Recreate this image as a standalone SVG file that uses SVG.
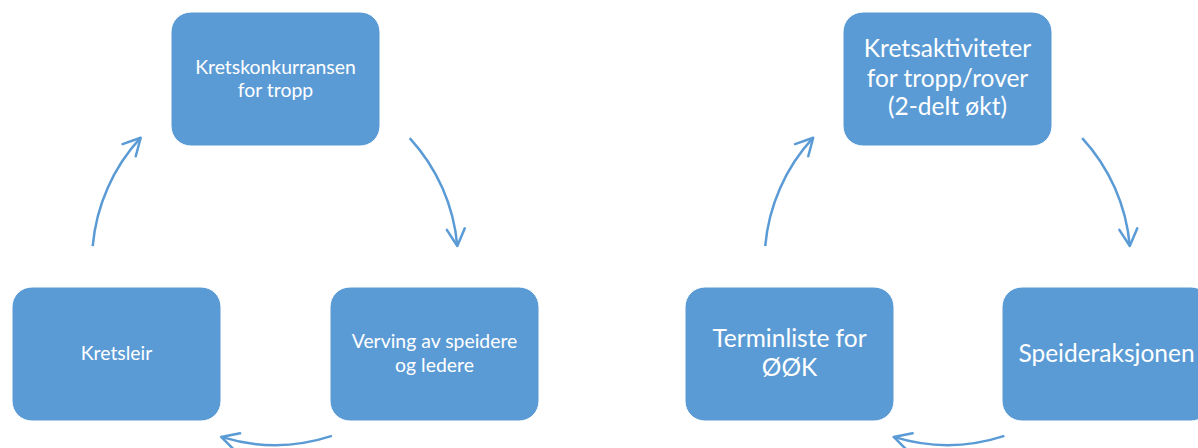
<svg xmlns="http://www.w3.org/2000/svg" width="1198" height="448" viewBox="0 0 1198 448">
  <style>
    .node rect { fill: #5B9BD5; stroke: #ffffff; stroke-width: 1; }
    .node text { fill: #ffffff; font-family: Lato, "Open Sans", sans-serif; text-anchor: middle; }
    .sm { font-size: 19.4px; }
    .lg { font-size: 24.5px; }
    .conn path { fill: none; stroke: #5B9BD5; stroke-width: 2.5; }
  </style>
  <defs>
    <marker id="ah" markerUnits="userSpaceOnUse" viewBox="-20 -12 24 24" refX="0" refY="0" markerWidth="24" markerHeight="24" orient="auto" overflow="visible">
      <path d="M-17,-9 L0,0 L-17,9" fill="none" stroke="#5B9BD5" stroke-width="2.5" stroke-linecap="round" stroke-linejoin="round"/>
    </marker>
  </defs>
  <rect width="1198" height="448" fill="#ffffff"/>

  <g id="n1" class="node">
    <rect x="171" y="12" width="209" height="134" rx="20"/>
    <text class="sm" x="275.5" y="74">Kretskonkurransen</text>
    <text class="sm" x="275.5" y="97">for tropp</text>
  </g>
  <g id="n2" class="node">
    <rect x="330" y="287" width="209" height="134" rx="20"/>
    <text class="sm" x="434.5" y="348">Verving av speidere</text>
    <text class="sm" x="434.5" y="372">og ledere</text>
  </g>
  <g id="n3" class="node">
    <rect x="12" y="287" width="209" height="134" rx="20"/>
    <text class="sm" x="116.5" y="360">Kretsleir</text>
  </g>

  <g id="n4" class="node">
    <rect x="843" y="12" width="209" height="134" rx="20"/>
    <text class="lg" x="947.5" y="57">Kretsaktiviteter</text>
    <text class="lg" x="947.5" y="87">for tropp/rover</text>
    <text class="lg" x="947.5" y="115">(2-delt økt)</text>
  </g>
  <g id="n5" class="node">
    <rect x="1002" y="287" width="209" height="134" rx="20"/>
    <text class="lg" x="1106.5" y="362">Speideraksjonen</text>
  </g>
  <g id="n6" class="node">
    <rect x="685" y="287" width="209" height="134" rx="20"/>
    <text class="lg" x="789.5" y="347">Terminliste for</text>
    <text class="lg" x="789.5" y="376">ØØK</text>
  </g>

  <g id="connectors" class="conn">
    <path d="M92.7,246.1 A183,183 0 0 1 140.7,137.7" marker-end="url(#ah)"/>
    <path d="M409.7,138.1 A183,183 0 0 1 457.3,246" marker-end="url(#ah)"/>
    <path d="M331.9,435.9 A183,183 0 0 1 221.2,436.9" marker-end="url(#ah)"/>
    <path d="M765.2,246.1 A183,183 0 0 1 813.2,137.7" marker-end="url(#ah)"/>
    <path d="M1082.2,138.1 A183,183 0 0 1 1129.8,246" marker-end="url(#ah)"/>
    <path d="M1004.4,435.9 A183,183 0 0 1 893.7,436.9" marker-end="url(#ah)"/>
  </g>
</svg>
